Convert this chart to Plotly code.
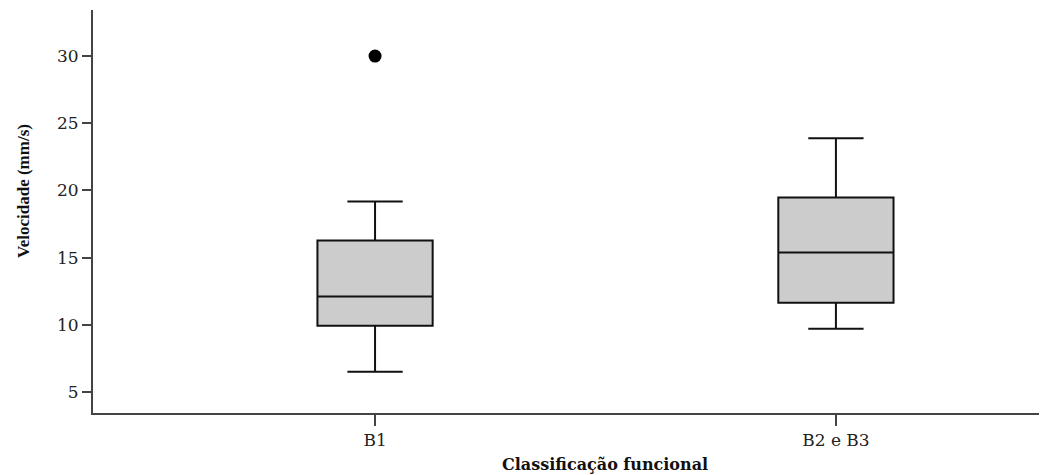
import plotly.graph_objects as go

categories = ["B1", "B2 e B3"]
q1_vals = [9.93, 11.64]
median_vals = [12.1, 15.37]
q3_vals = [16.27, 19.48]
lower_fence = [6.5, 9.7]
upper_fence = [19.18, 23.88]
outlier_cat = ["B1"]
outlier_vals = [30.0]
y_ticks = [5, 10, 15, 20, 25, 30]

fig = go.Figure()
fig.add_trace(go.Box(
    x=categories,
    q1=q1_vals, median=median_vals, q3=q3_vals,
    lowerfence=lower_fence, upperfence=upper_fence,
    fillcolor="#cccccc",
    line=dict(color="#111111", width=2),
    width=0.25,
    whiskerwidth=0.48,
    boxpoints=False,
    showlegend=False,
    hoverinfo="skip",
))
fig.add_trace(go.Scatter(
    x=outlier_cat, y=outlier_vals, mode="markers",
    marker=dict(color="#000000", size=13, symbol="circle"),
    showlegend=False, hoverinfo="skip",
))

tickfont = dict(family="DejaVu Serif", size=17, color="#222222")
# page has an 8px body offset; plot area in page px: x 93..1047, y 10..413
W, H = 1039, 467
L, T, B = 85, 2, 62
fig.update_layout(
    width=W, height=H,
    margin=dict(l=L, r=0, t=T, b=B, pad=0),
    paper_bgcolor="white", plot_bgcolor="white",
    xaxis=dict(
        type="category", categoryorder="array", categoryarray=categories,
        range=[-0.612, 1.458],
        showline=True, linecolor="#444444", linewidth=2,
        ticks="outside", ticklen=11, tickwidth=2, tickcolor="#444444",
        tickfont=tickfont, showgrid=False, zeroline=False,
    ),
    yaxis=dict(
        range=[3.43, 33.43],
        tickvals=y_ticks,
        showline=True, linecolor="#444444", linewidth=2,
        ticks="outside", ticklen=9, tickwidth=1.5, tickcolor="#444444",
        tickfont=tickfont, showgrid=False, zeroline=False,
    ),
    annotations=[
        dict(text="<b>Classificação funcional</b>", xref="paper", yref="paper",
             x=(605 - 93) / (1047 - 93), y=-(464 - 413) / (413 - 10),
             xanchor="center", yanchor="middle", showarrow=False,
             font=dict(family="DejaVu Serif", size=16, color="#111111")),
        dict(text="<b>Velocidade (mm/s)</b>", xref="paper", yref="paper",
             x=-(93 - 23) / (1047 - 93), y=(413 - 191) / (413 - 10),
             xanchor="center", yanchor="middle", showarrow=False, textangle=-90,
             font=dict(family="Liberation Serif", size=17, color="#111111")),
    ],
)

fig.write_html("out.html")
